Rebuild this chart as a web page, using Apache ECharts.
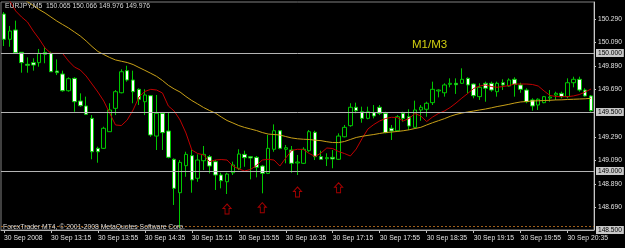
<!DOCTYPE html>
<html><head><meta charset="utf-8">
<script src="https://cdn.jsdelivr.net/npm/echarts@6/dist/echarts.min.js"></script>
<style>html,body{margin:0;padding:0;background:#000;}#c{width:625px;height:248px;}</style>
</head><body><div id="c"></div>
<script>
const times = ("12:35 12:40 12:45 12:50 12:55 13:00 13:05 13:10 13:15 13:20 13:25 13:30 13:35 13:40 13:45 13:50 13:55 " +
 "14:00 14:05 14:10 14:15 14:20 14:25 14:30 14:35 14:40 14:45 14:50 14:55 15:00 15:05 15:10 15:15 15:20 15:25 15:30 15:35 15:40 15:45 15:50 15:55 " +
 "16:00 16:05 16:10 16:15 16:20 16:25 16:30 16:35 16:40 16:45 16:50 16:55 17:00 17:05 17:10 17:15 17:20 17:25 17:30 17:35 17:40 17:45 17:50 17:55 " +
 "18:00 18:05 18:10 18:15 18:20 18:25 18:30 18:35 18:40 18:45 18:50 18:55 19:00 19:05 19:10 19:15 19:20 19:25 19:30 19:35 19:40 19:45 19:50 19:55 " +
 "20:00 20:05 20:10 20:15 20:20 20:25 20:30 20:35 20:40 20:45 20:50 20:55").split(' ');

const tickTimes  = ['12:35','13:15','13:55','14:35','15:15','15:55','16:35','17:15','17:55','18:35','19:15','19:55','20:35'];
const tickLabels = ['30 Sep 2008','30 Sep 13:15','30 Sep 13:55','30 Sep 14:35','30 Sep 15:15','30 Sep 15:55','30 Sep 16:35','30 Sep 17:15','30 Sep 17:55','30 Sep 18:35','30 Sep 19:15','30 Sep 19:55','30 Sep 20:35'];

const priceTicks = [150.29, 150.09, 149.89, 149.69, 149.29, 149.09, 148.89, 148.69];
const levels = [150.000, 149.500, 149.000, 148.500];
const dottedLevel = [148.528];

const open = [150.330,150.116,150.195,150.006,149.904,149.918,149.918,150.005,149.997,149.847,
149.822,149.680,149.785,149.593,149.551,149.446,149.192,149.192,149.333,149.531,
149.663,149.850,149.771,149.692,149.587,149.638,149.296,149.489,149.339,149.099,
148.816,149.045,149.130,148.938,149.087,149.121,149.079,148.966,148.909,148.985,
149.023,149.141,149.121,149.116,149.042,148.980,149.184,149.341,149.184,149.178,
149.068,149.065,149.172,149.328,149.121,149.104,149.116,149.099,149.290,149.384,
149.540,149.502,149.446,149.494,149.540,149.489,149.362,149.341,149.489,149.460,
149.370,149.517,149.523,149.579,149.678,149.663,149.734,149.743,149.743,149.785,
149.737,149.630,149.743,149.743,149.672,149.748,149.720,149.777,149.729,149.686,
149.602,149.559,149.579,149.618,149.644,149.658,149.630,149.748,149.777,149.686,149.636];
const high = [150.347,150.229,150.274,150.008,149.963,149.955,150.034,150.053,150.011,149.946,
149.850,149.794,149.794,149.658,149.630,149.474,149.206,149.375,149.574,149.686,
149.862,149.892,149.850,149.701,149.692,149.644,149.644,149.494,149.494,149.107,
149.093,149.163,149.178,149.141,149.212,149.136,149.093,148.985,148.985,149.079,
149.184,149.172,149.127,149.127,149.051,149.305,149.395,149.347,149.220,149.212,
149.136,149.201,149.347,149.341,149.172,149.150,149.178,149.319,149.390,149.574,
149.579,149.545,149.545,149.559,149.559,149.502,149.390,149.474,149.502,149.523,
149.596,149.559,149.587,149.757,149.692,149.743,149.785,149.785,149.870,149.794,
149.743,149.743,149.757,149.757,149.757,149.777,149.785,149.794,149.748,149.701,
149.616,149.616,149.636,149.686,149.672,149.672,149.785,149.799,149.799,149.701,149.644];
const low = [150.059,150.053,149.997,149.833,149.833,149.850,149.884,149.913,149.839,149.813,
149.672,149.672,149.502,149.545,149.474,149.099,149.070,149.186,149.333,149.474,
149.658,149.757,149.574,149.559,149.474,149.290,149.178,149.178,149.107,148.712,
148.517,148.951,148.816,148.909,149.008,148.980,148.839,148.853,148.805,148.966,
149.008,149.036,148.929,148.946,148.811,148.974,149.163,149.184,149.065,148.985,
148.966,149.059,149.163,149.093,149.093,149.042,149.023,149.093,149.285,149.375,
149.489,149.409,149.438,149.446,149.474,149.319,149.263,149.333,149.418,149.347,
149.362,149.426,149.460,149.559,149.624,149.630,149.709,149.653,149.737,149.658,
149.616,149.602,149.587,149.672,149.630,149.686,149.714,149.630,149.663,149.574,
149.511,149.517,149.574,149.587,149.602,149.616,149.616,149.709,149.672,149.630,149.502];
const close = [150.116,150.186,150.002,149.918,149.896,149.898,149.997,149.990,149.841,149.833,
149.680,149.782,149.587,149.553,149.480,149.163,149.163,149.362,149.517,149.672,
149.841,149.771,149.672,149.607,149.644,149.305,149.489,149.325,149.116,148.853,
149.073,149.141,148.924,149.093,149.141,149.042,148.966,148.918,148.974,149.051,
149.144,149.113,149.110,149.031,148.980,149.192,149.341,149.192,149.197,149.065,
149.076,149.184,149.333,149.121,149.099,149.113,149.102,149.296,149.370,149.540,
149.511,149.446,149.502,149.466,149.489,149.325,149.339,149.460,149.446,149.381,
149.517,149.540,149.574,149.692,149.686,149.729,149.743,149.731,149.777,149.729,
149.638,149.709,149.701,149.686,149.743,149.729,149.771,149.734,149.692,149.587,
149.551,149.608,149.630,149.627,149.658,149.630,149.748,149.777,149.686,149.636,149.511];

const maFast = [150.517,150.440,150.356,150.305,150.263,150.186,150.119,150.042,149.997,149.997,
149.996,149.932,149.881,149.856,149.805,149.737,149.669,149.593,149.491,149.390,
149.385,149.432,149.517,149.627,149.674,149.692,149.686,149.661,149.551,149.508,
149.432,149.322,149.178,149.148,149.136,149.079,149.093,149.097,149.093,149.042,
149.017,149.000,149.013,149.047,149.093,149.099,149.093,149.042,149.110,149.174,
149.184,149.182,149.148,149.123,149.152,149.195,149.190,149.165,149.148,149.127,
149.186,149.275,149.356,149.394,149.424,149.445,149.455,149.453,149.424,149.445,
149.487,149.466,149.419,149.457,149.487,149.508,149.538,149.576,149.618,149.657,
149.699,149.720,149.729,149.716,149.709,149.716,149.724,149.737,149.737,149.737,
149.733,149.720,149.678,149.640,149.631,149.630,149.630,149.636,149.648,149.669,149.695];
const maSlow = [150.559,150.525,150.496,150.466,150.435,150.402,150.368,150.339,150.305,150.271,
150.241,150.212,150.178,150.144,150.102,150.055,150.013,149.987,149.962,149.941,
149.930,149.919,149.902,149.877,149.853,149.828,149.802,149.767,149.726,149.695,
149.669,149.631,149.597,149.568,149.538,149.513,149.491,149.458,149.428,149.407,
149.385,149.369,149.356,149.343,149.326,149.313,149.309,149.305,149.292,149.280,
149.273,149.269,149.267,149.261,149.257,149.248,149.241,149.241,149.250,149.267,
149.284,149.294,149.302,149.309,149.318,149.326,149.330,149.335,149.341,149.349,
149.360,149.370,149.390,149.409,149.426,149.443,149.463,149.479,149.491,149.500,
149.508,149.517,149.525,149.535,149.546,149.555,149.565,149.576,149.585,149.589,
149.593,149.595,149.597,149.599,149.602,149.603,149.606,149.608,149.610,149.612,149.616];

const arrowTimes  = ['15:45','16:15','16:45','17:20'];
const arrowPrices = [148.678, 148.689, 148.822, 148.858];

const FONT = 'Liberation Sans';
const chart = echarts.init(document.getElementById('c'), null, {renderer:'canvas'});
const candleData = open.map((o,i)=>[o, close[i], low[i], high[i]]);
const showTick = (idx, val) => tickTimes.indexOf(val !== undefined ? val : times[idx]) >= 0;

chart.setOption({
  backgroundColor:'#000000',
  animation:false,
  title:[
    {text:'EURJPY,M5  150.065 150.066 149.976 149.976', left:5, top:3, padding:0,
     textStyle:{color:'#d8d8d8', fontSize:6.8, fontWeight:'normal', fontFamily:FONT}},
    {text:'M1/M3', left:412, top:39, padding:0,
     textStyle:{color:'#d2cf10', fontSize:11.5, fontWeight:'normal', fontFamily:FONT}},
    {text:'ForexTrader MT4, © 2001-2008 MetaQuotes Software Corp.', left:3, top:224, padding:0,
     textStyle:{color:'#d8d8d8', fontSize:6.8, fontWeight:'normal', fontFamily:FONT}}
  ],
  grid:{left:1, right:31, top:2, bottom:18, show:true, borderColor:'#808080', borderWidth:1, backgroundColor:'transparent'},
  xAxis:{
    type:'category', data:times, boundaryGap:true,
    axisLine:{show:true, lineStyle:{color:'#a0a0a0'}},
    axisTick:{show:true, alignWithLabel:true, length:3, interval:(i,v)=>showTick(i,v), lineStyle:{color:'#c0c0c0'}},
    axisLabel:{show:true, interval:(i,v)=>showTick(i,v), align:'left', margin:5,
      color:'#e0e0e0', fontSize:6.8, fontFamily:FONT,
      formatter:(v)=>tickLabels[tickTimes.indexOf(v)] || ''},
    splitLine:{show:false}
  },
  yAxis:{
    type:'value', position:'right', min:148.5, max:150.432,
    axisLine:{show:true, lineStyle:{color:'#c8c8c8'}},
    axisTick:{show:true, length:2, customValues:priceTicks, lineStyle:{color:'#c8c8c8'}},
    axisLabel:{show:true, customValues:priceTicks, margin:4, color:'#e0e0e0', fontSize:6.6, fontFamily:FONT,
      formatter:(v)=>v.toFixed(3)},
    splitLine:{show:false}
  },
  series:[
    {type:'candlestick', data:candleData, barWidth:4,
     itemStyle:{color:'#000000', color0:'#ffffff', borderColor:'#00c800', borderColor0:'#00c800', borderWidth:1},
     markLine:{silent:true, symbol:['none','none'], animation:false,
       data: levels.map(v=>({yAxis:v, lineStyle:{color:'#b4b4b4', width:1, type:'solid'},
          label:{show:true, position:'end', distance:2, formatter:(p)=>p.value.toFixed(3),
                 backgroundColor:'#c8c8c8', color:'#000', fontSize:6.6, fontFamily:FONT, padding:[1,2,0,2]}}))
         .concat(dottedLevel.map(v=>({yAxis:v, lineStyle:{color:'#a0601c', width:1, type:[2,2]}, label:{show:false}})))
     }
    },
    {type:'line', data:maFast, showSymbol:false, symbol:'none', lineStyle:{color:'#c00000', width:1}, z:3, silent:true},
    {type:'line', data:maSlow, showSymbol:false, symbol:'none', lineStyle:{color:'#c8a018', width:1}, z:3, silent:true},
    {type:'scatter', data:arrowTimes.map((t,k)=>[t, arrowPrices[k]]),
     symbol:'path://M4,0 L8,4 L6,4 L6,9 L2,9 L2,4 L0,4 Z', symbolSize:[8,10],
     itemStyle:{color:'#000000', borderColor:'#d00000', borderWidth:1}, z:4, silent:true}
  ]
});
</script></body></html>
